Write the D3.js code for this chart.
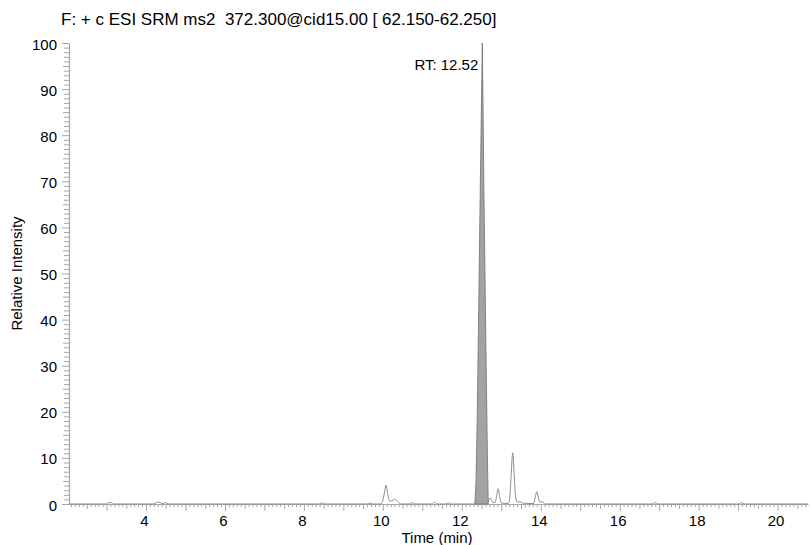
<!DOCTYPE html>
<html>
<head>
<meta charset="utf-8">
<script src="https://cdn.jsdelivr.net/npm/d3@7"></script>
<style>
  body { margin: 0; background: #fff; }
  text { font-family: "Liberation Sans", Arial, sans-serif; fill: #000; }
</style>
</head>
<body>
<svg id="chart" width="810" height="545"></svg>
<script>
// chromatogram trace (time in min, relative intensity in %)
const traceTime = [2.05, 3.0, 3.06, 3.12, 3.18, 4.2, 4.26, 4.32, 4.38, 4.44, 4.5, 4.56,
  8.4, 8.47, 8.54, 9.6, 9.67, 9.74, 9.96, 10.0, 10.04, 10.08, 10.12, 10.16, 10.2,
  10.25, 10.3, 10.35, 10.4, 10.45, 10.68, 10.75, 10.82, 11.24, 11.31, 11.38, 11.6,
  11.66, 11.72, 12.3, 12.33, 12.66, 12.69, 12.72, 12.75, 12.79, 12.84, 12.88, 12.92,
  12.96, 13.0, 13.18, 13.22, 13.25, 13.29, 13.33, 13.36, 13.4, 13.47, 13.54, 13.82,
  13.86, 13.9, 13.94, 13.98, 14.04, 14.1, 16.82, 16.89, 16.96, 19.02, 19.09, 19.16, 20.77]
const traceIntensity = [0, 0, 0.3, 0.3, 0, 0, 0.3, 0.4, 0.2, 0.1, 0.3, 0,
  0, 0.25, 0, 0, 0.2, 0, 0, 0.8, 2.4, 4.1, 2.3, 0.8, 0.6,
  0.8, 1.0, 0.8, 0.3, 0, 0, 0.3, 0, 0, 0.35, 0, 0,
  0.25, 0, 0, 0, 0.4, 1.0, 1.3, 0.9, 0.3, 0.3, 1.6, 3.3,
  1.6, 0.2, 0.1, 1.8, 6.2, 11.1, 6.0, 1.6, 0.4, 0.5, 0.2, 0.1,
  1.4, 2.7, 1.4, 0.4, 0.5, 0, 0, 0.3, 0, 0, 0.3, 0, 0]

// integrated peak at RT 12.52
const peakTime = [12.33, 12.36, 12.39, 12.42, 12.45, 12.48, 12.5, 12.52, 12.54, 12.56, 12.59, 12.62, 12.65, 12.67]
const peakIntensity = [0, 5, 18, 37, 57, 76, 88, 100, 85, 68, 48, 28, 10, 0]
const peakLabel = 'RT: 12.52'

const title = 'F: + c ESI SRM ms2  372.300@cid15.00 [ 62.150-62.250]'
const xDomain = [2.05, 20.77]
const yDomain = [0, 100]

const svg = d3.select('#chart')
const plotLeft = 69
const plotRight = 808
const plotTop = 43
const plotBottom = 504

const x = d3.scaleLinear().domain(xDomain).range([plotLeft, plotRight])
const y = d3.scaleLinear().domain(yDomain).range([plotBottom, plotTop])

const axisColor = '#a6a6a6'

// title
svg.append('text')
  .attr('x', 61)
  .attr('y', 25)
  .attr('font-size', 17)
  .style('white-space', 'pre')
  .text(title)

// x axis
const xTicks = d3.range(21, 208).map(i => i / 10)
const isWhole = v => Math.abs(v - Math.round(v)) < 1e-6
const xAxis = svg.append('g')
  .attr('class', 'x-axis')
  .attr('transform', 'translate(0,' + plotBottom + ')')
  .call(d3.axisBottom(x)
    .tickValues(xTicks)
    .tickSizeOuter(0)
    .tickFormat(v => (isWhole(v) && Math.round(v) % 2 === 0) ? Math.round(v) : ''))

xAxis.select('.domain').attr('stroke', axisColor).attr('stroke-width', 1.2)
xAxis.selectAll('.tick line')
  .attr('stroke', axisColor)
  .attr('y2', v => isWhole(v) ? 7 : (isWhole(v * 2) ? 5 : 3))
xAxis.selectAll('.tick text')
  .attr('y', 11.3)
  .attr('dx', -2)
  .attr('font-size', 15)
  .attr('fill', '#000')

// y axis
const yTicks = d3.range(0, 101)
const yAxis = svg.append('g')
  .attr('class', 'y-axis')
  .attr('transform', 'translate(' + plotLeft + ',0)')
  .call(d3.axisLeft(y)
    .tickValues(yTicks)
    .tickSizeOuter(0)
    .tickFormat(v => v % 10 === 0 ? v : ''))

yAxis.select('.domain').attr('stroke', axisColor).attr('stroke-width', 1.2)
yAxis.selectAll('.tick line')
  .attr('stroke', axisColor)
  .attr('x2', v => v % 10 === 0 ? -7 : (v % 5 === 0 ? -6 : -5))
yAxis.selectAll('.tick text')
  .attr('x', -12)
  .attr('dy', '0.4em')
  .attr('font-size', 15)
  .attr('fill', '#000')

// axis titles
svg.append('text')
  .attr('x', 437)
  .attr('y', 543)
  .attr('text-anchor', 'middle')
  .attr('font-size', 15)
  .text('Time (min)')

svg.append('text')
  .attr('transform', 'translate(22,' + ((plotTop + plotBottom) / 2) + ') rotate(-90)')
  .attr('text-anchor', 'middle')
  .attr('font-size', 15)
  .text('Relative Intensity')

// trace
const trace = traceTime.map((t, i) => ({ t, v: traceIntensity[i] }))
const line = d3.line()
  .x(d => x(d.t))
  .y(d => y(d.v))
  .curve(d3.curveMonotoneX)

svg.append('path')
  .datum(trace)
  .attr('fill', 'none')
  .attr('stroke', '#8c8c8c')
  .attr('stroke-width', 1)
  .attr('d', line)

// filled peak
const peak = peakTime.map((t, i) => ({ t, v: peakIntensity[i] }))
const area = d3.area()
  .x(d => x(d.t))
  .y0(y(0))
  .y1(d => y(d.v))

svg.append('path')
  .datum(peak)
  .attr('fill', '#a3a3a3')
  .attr('stroke', '#6e6e6e')
  .attr('stroke-width', 0.8)
  .attr('d', area)

// peak label
const apex = peak[d3.maxIndex(peak, d => d.v)]
svg.append('text')
  .attr('x', x(apex.t) - 4)
  .attr('y', y(apex.v) + 27)
  .attr('text-anchor', 'end')
  .attr('font-size', 15)
  .text(peakLabel)
</script>
</body>
</html>
